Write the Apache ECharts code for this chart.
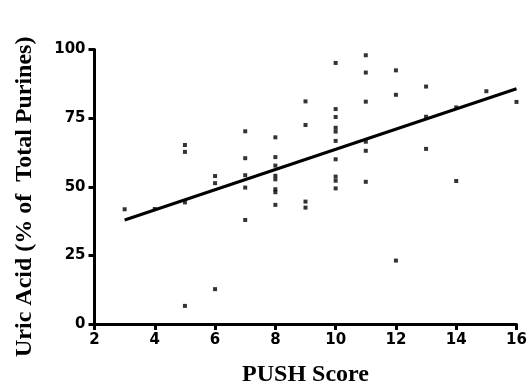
<!DOCTYPE html>
<html>
<head>
<meta charset="utf-8">
<script src="https://cdn.jsdelivr.net/npm/echarts@6/dist/echarts.min.js"></script>
<style>
html,body{margin:0;padding:0;background:#fff;}
#chart{width:528px;height:387px;}
</style>
</head>
<body>
<div id="chart"></div>
<script>
var pushScore = [3,4,5,5,5,5,6,6,6,7,7,7,7,7,8,8,8,8,8,8,8,8,9,9,9,9,
  10,10,10,10,10,10,10,10,10,10,11,11,11,11,11,11,12,12,12,13,13,13,14,14,15,16];
var uricAcid = [41.8,41.9,65.2,62.7,44.3,6.6,53.9,51.3,12.7,70.2,60.4,54.2,49.7,37.9,
  68.0,60.8,57.7,54.0,52.7,49.1,48.0,43.4,81.1,72.5,44.6,42.4,
  95.1,78.3,75.4,71.5,70.1,66.7,60.0,53.7,52.2,49.4,97.9,91.6,81.0,66.4,63.1,51.8,
  92.4,83.5,23.1,86.5,75.5,63.8,78.9,52.1,84.8,80.9];
var fitX = [3, 16];
var fitY = [37.9, 85.7];
var xTicks = [2,4,6,8,10,12,14,16];
var yTicks = [0,25,50,75,100];

var points = pushScore.map(function(x,i){return [x, uricAcid[i]];});
var fitLine = fitX.map(function(x,i){return [x, fitY[i]];});

var chart = echarts.init(document.getElementById('chart'), null, {renderer:'canvas'});
var tickFont = {fontFamily:'DejaVu Sans', fontWeight:'bold', fontSize:15, color:'#000'};
chart.setOption({
  animation:false,
  backgroundColor:'#fff',
  grid:{left:94.5, right:11.5, top:49.5, bottom:63, containLabel:false, outerBoundsMode:'none'},
  xAxis:{
    type:'value', min:xTicks[0], max:xTicks[xTicks.length-1], interval:2,
    name:'PUSH Score', nameLocation:'middle', nameGap:39,
    nameTextStyle:{fontFamily:'Liberation Serif', fontWeight:'bold', fontSize:24, color:'#000'},
    axisLine:{show:true, lineStyle:{color:'#000', width:3}},
    axisTick:{show:true, length:6, lineStyle:{color:'#000', width:3}},
    axisLabel:Object.assign({margin:9}, tickFont),
    splitLine:{show:false}
  },
  yAxis:{
    type:'value', min:yTicks[0], max:yTicks[yTicks.length-1], interval:25,
    name:'Uric Acid (% of  Total Purines)', nameLocation:'middle', nameGap:58, nameRotate:90,
    nameTextStyle:{fontFamily:'Liberation Serif', fontWeight:'bold', fontSize:24, color:'#000', padding:[0,20,0,0]},
    axisLine:{show:true, onZero:false, lineStyle:{color:'#000', width:3}},
    axisTick:{show:true, length:6, lineStyle:{color:'#000', width:3}},
    axisLabel:Object.assign({margin:9}, tickFont),
    splitLine:{show:false}
  },
  series:[
    {type:'scatter', data:points, symbol:'rect', symbolSize:4,
     itemStyle:{color:'#000'}, silent:true},
    {type:'line', data:fitLine, symbol:'none', lineStyle:{color:'#000', width:3},
     silent:true}
  ]
});
</script>
</body>
</html>
